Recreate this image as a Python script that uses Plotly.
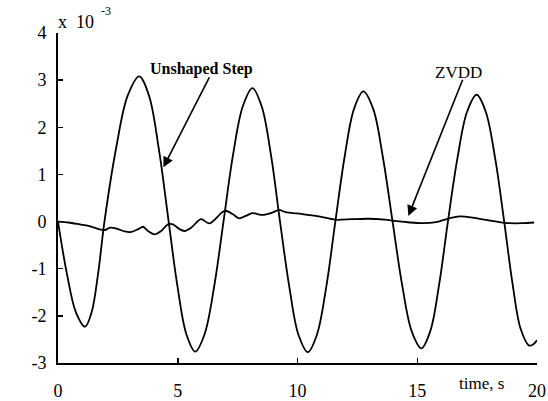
import plotly.graph_objects as go

# Unshaped step response (x 10^-3)
t_unshaped = [0, 0.377, 0.753, 1.13, 1.40, 1.67, 1.94, 2.42, 2.91, 3.39, 3.80, 4.21, 4.62,
              4.99, 5.36, 5.73, 6.12, 6.52, 6.91, 7.31, 7.72, 8.12, 8.50, 8.89, 9.27,
              9.66, 10.04, 10.43, 10.81, 11.2, 11.58, 11.97, 12.36, 12.75, 13.16, 13.56,
              13.97, 14.37, 14.77, 15.17, 15.54, 15.91, 16.28, 16.68, 17.08, 17.48,
              17.86, 18.25, 18.63, 18.98, 19.32, 19.67, 19.85, 20.0]
y_unshaped = [0, -1.12, -1.93, -2.23, -1.93, -1.12, 0, 1.54, 2.67, 3.08, 2.67, 1.54, 0,
              -1.38, -2.39, -2.76, -2.39, -1.38, 0, 1.42, 2.45, 2.83, 2.45, 1.42, 0,
              -1.39, -2.40, -2.77, -2.40, -1.39, 0, 1.38, 2.39, 2.76, 2.39, 1.38,
              0, -1.35, -2.33, -2.69, -2.33, -1.35, 0, 1.35, 2.33, 2.69,
              2.33, 1.35, 0, -1.32, -2.28, -2.63, -2.6, -2.52]

# ZVDD shaped response (x 10^-3)
t_zvdd = [0, 0.44, 0.92, 1.27, 1.69, 1.96, 2.17, 2.45, 2.79, 3.07, 3.35, 3.55, 3.76,
          4.04, 4.31, 4.59, 4.80, 5.07, 5.28, 5.56, 5.97, 6.32, 6.66, 6.85, 7.01,
          7.29, 7.56, 7.84, 8.12, 8.53, 8.95, 9.23, 9.5, 10.2, 10.89, 11.58, 12.27,
          12.96, 13.65, 14.13, 14.69, 15.24, 15.79, 16.35, 16.76, 17.32, 17.87,
          18.42, 18.84, 19.4, 19.88]
y_zvdd = [0, -0.02, -0.06, -0.09, -0.16, -0.18, -0.13, -0.15, -0.21, -0.22, -0.16,
          -0.11, -0.20, -0.27, -0.20, -0.06, -0.06, -0.16, -0.20, -0.13, 0.05, -0.04,
          0.10, 0.20, 0.23, 0.16, 0.07, 0.12, 0.18, 0.14, 0.19, 0.25, 0.20, 0.16,
          0.11, 0.04, 0.05, 0.06, 0.04, 0.01, -0.02, -0.035, -0.01, 0.07, 0.11,
          0.085, 0.035, -0.01, -0.035, -0.035, -0.02]

x_ticks = [0, 5, 10, 15, 20]
x_tick_labels = ["0", "5", "10", "15", "20"]
y_ticks = [-3, -2, -1, 0, 1, 2, 3, 4]
y_tick_labels = ["-3", "-2", "-1", "0", "1", "2", "3", "4"]

serif = "Liberation Serif"

fig = go.Figure()
fig.add_trace(go.Scatter(x=t_unshaped, y=y_unshaped, mode="lines",
                         line=dict(color="black", width=1.8, shape="spline", smoothing=1.0),
                         showlegend=False, hoverinfo="skip"))
fig.add_trace(go.Scatter(x=t_zvdd, y=y_zvdd, mode="lines",
                         line=dict(color="black", width=1.8, shape="spline", smoothing=0.8),
                         showlegend=False, hoverinfo="skip"))

# plot area (page pixels): left 58, top 33, width 479, height 330
def px(xp):
    return (xp - 58) / 479

def py(yp):
    return (363 - yp) / 330

fig.update_layout(
    width=548, height=401,
    margin=dict(l=58, r=11, t=33, b=38),
    paper_bgcolor="white", plot_bgcolor="white",
    font=dict(family=serif, size=17, color="black"),
    hovermode=False,
    xaxis=dict(range=[0, 20], tickvals=x_ticks, ticktext=x_tick_labels,
               showgrid=False, zeroline=False, showline=True, linecolor="black",
               linewidth=2, ticks="inside", ticklen=5, tickwidth=1.5,
               tickcolor="black", ticklabelstandoff=10, automargin=False,
               ticklabeloverflow="allow",
               tickfont=dict(family=serif, size=18, color="black")),
    yaxis=dict(range=[-3, 4], tickvals=y_ticks, ticktext=y_tick_labels,
               showgrid=False, zeroline=False, showline=True, linecolor="black",
               linewidth=2, ticks="inside", ticklen=5, tickwidth=1.5,
               tickcolor="black", ticklabelstandoff=6, automargin=False,
               tickfont=dict(family=serif, size=18, color="black")),
    annotations=[
        dict(x=4.40, y=1.15, ax=6.35, ay=3.09, xref="x", yref="y", axref="x", ayref="y",
             showarrow=True, arrowhead=2, arrowsize=1.3, arrowwidth=1.6,
             arrowcolor="black", text=""),
        dict(x=14.63, y=0.12, ax=16.92, ay=3.04, xref="x", yref="y", axref="x", ayref="y",
             showarrow=True, arrowhead=2, arrowsize=1.3, arrowwidth=1.6,
             arrowcolor="black", text=""),
        dict(x=px(201), y=py(69), xref="paper", yref="paper", text="<b>Unshaped Step</b>",
             xanchor="center", yanchor="middle",
             showarrow=False, font=dict(family=serif, size=16, color="black")),
        dict(x=px(458.7), y=py(72.5), xref="paper", yref="paper", text="ZVDD",
             xanchor="center", yanchor="middle",
             showarrow=False, font=dict(family=serif, size=17, color="black")),
        dict(x=px(481), y=py(383), xref="paper", yref="paper", text="time, s",
             xanchor="center", yanchor="middle",
             showarrow=False, font=dict(family=serif, size=17, color="black")),
        dict(x=px(56), y=py(22), xref="paper", yref="paper", text="x&nbsp;&nbsp;10",
             xanchor="left", yanchor="middle",
             showarrow=False, font=dict(family=serif, size=18, color="black")),
        dict(x=px(99), y=py(11), xref="paper", yref="paper", text="-3",
             xanchor="left", yanchor="middle",
             showarrow=False, font=dict(family=serif, size=12, color="black")),
    ],
)

fig.write_html("out.html",
               config={"displayModeBar": False, "staticPlot": True},
               post_script="document.body.style.margin='0';document.body.style.overflow='hidden';")
